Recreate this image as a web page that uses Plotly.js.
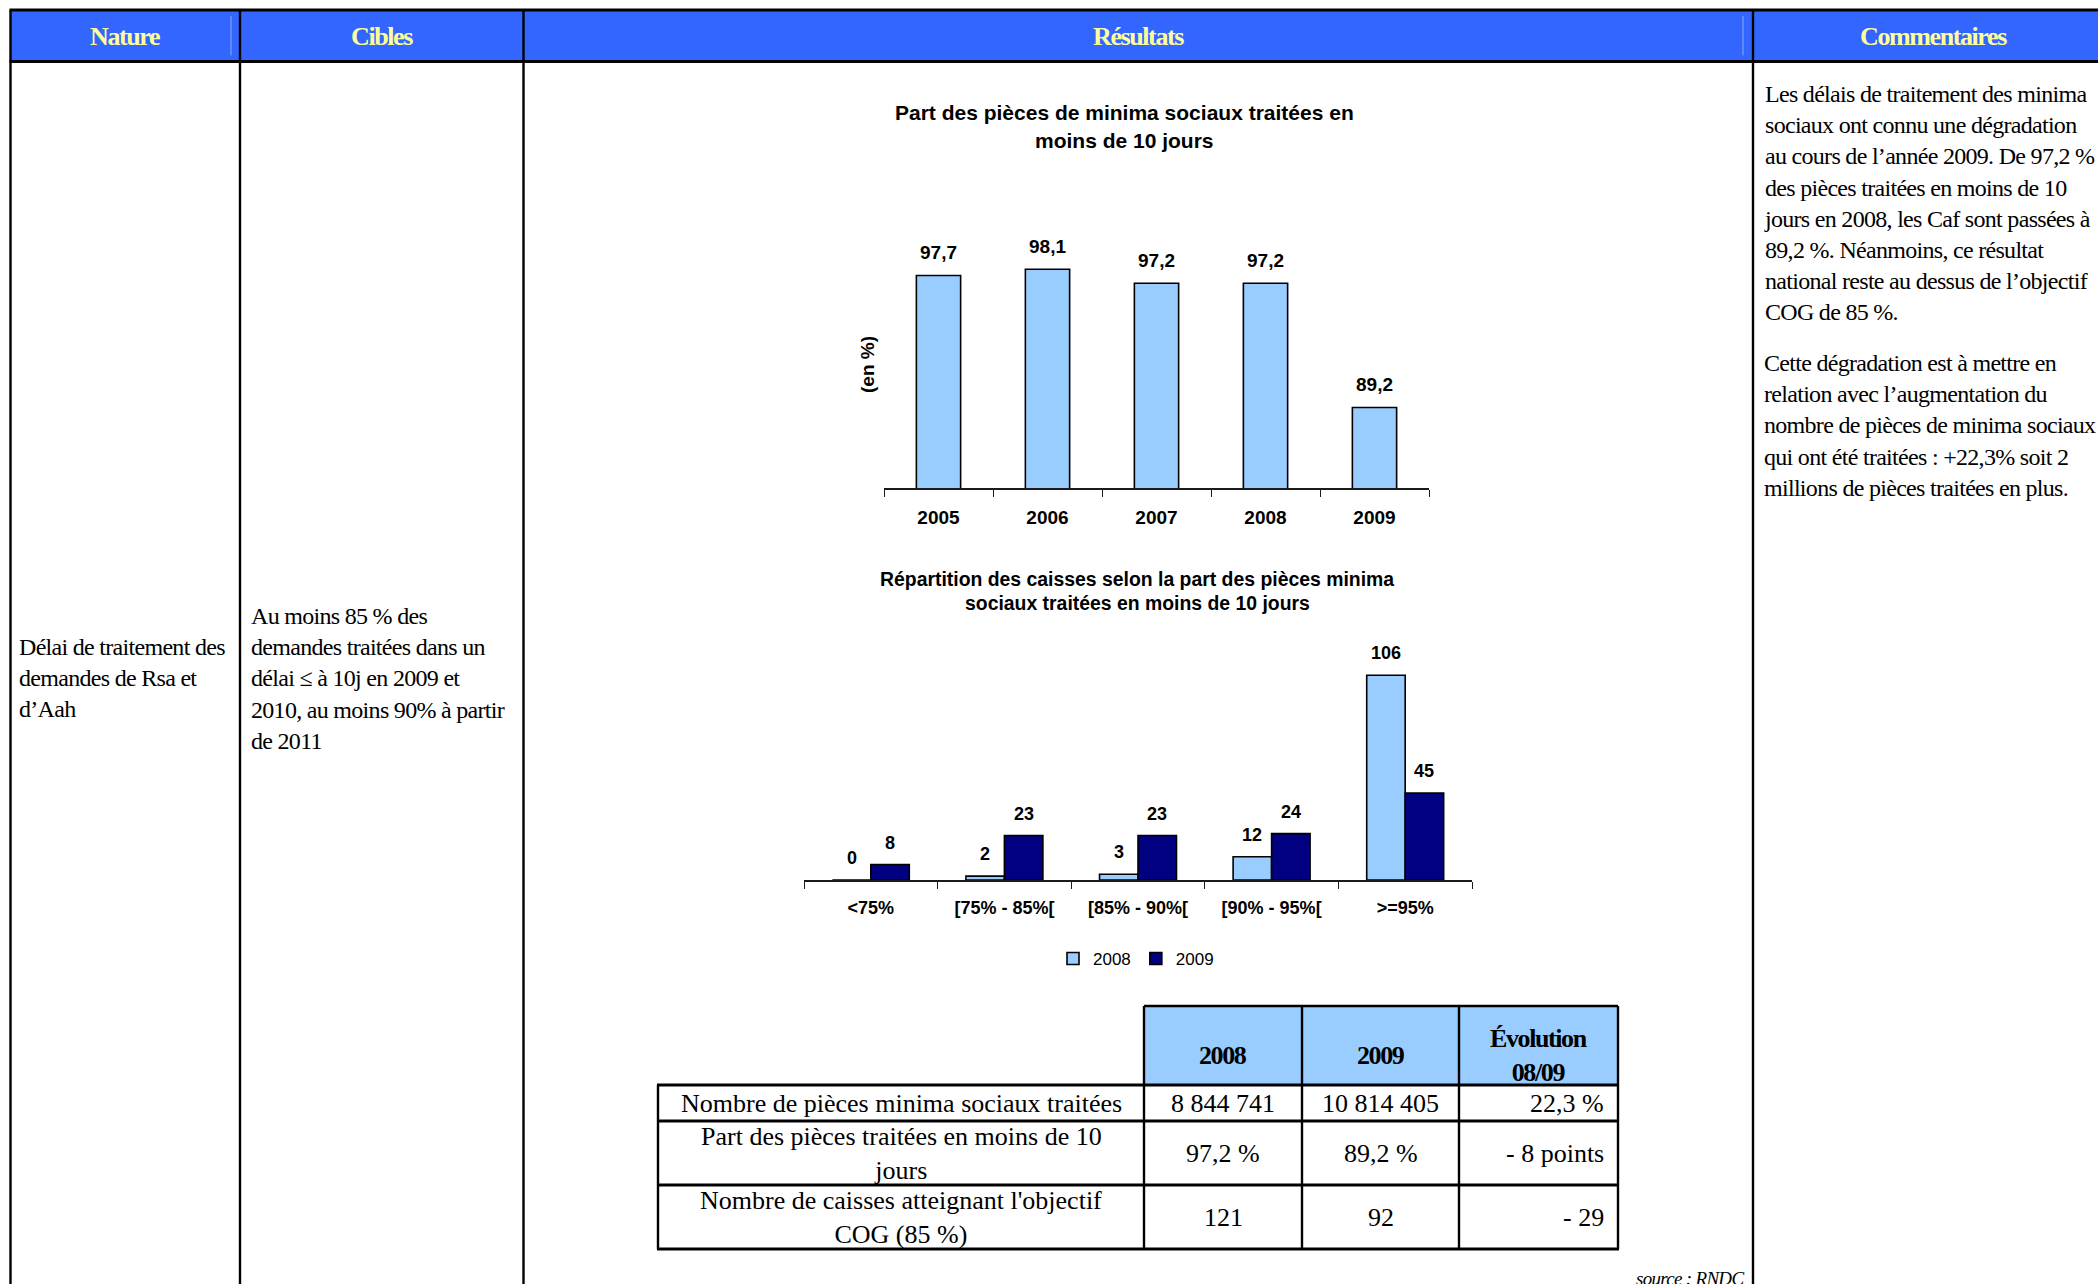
<!DOCTYPE html>
<html>
<head>
<meta charset="utf-8">
<script src="https://cdn.plot.ly/plotly-3.0.1.min.js"></script>
<style>
html, body { margin: 0; padding: 0; background: #ffffff; }
#chart { width: 2098px; height: 1284px; }
/* condensed Times-like rendering of the source document */
text[style*="Tinos"] { letter-spacing: -1.4px; }
text[style*="Times New Roman"] { letter-spacing: -0.7px; }
</style>
</head>
<body>
<div id="chart"></div>
<script>
// ---------------- DATA ----------------
const years = ['2005', '2006', '2007', '2008', '2009'];
const partMoins10Jours = [97.7, 98.1, 97.2, 97.2, 89.2];

const tranches = ['<75%', '[75% - 85%[', '[85% - 90%[', '[90% - 95%[', '>=95%'];
const caisses2008 = [0, 2, 3, 12, 106];
const caisses2009 = [8, 23, 23, 24, 45];
const seriesNames = ['2008', '2009'];

const title1Lines = ['Part des pièces de minima sociaux traitées en', 'moins de 10 jours'];
const title2Lines = ['Répartition des caisses selon la part des pièces minima', 'sociaux traitées en moins de 10 jours'];
const yTitle1 = '(en %)';

const columnHeaders = ['Nature', 'Cibles', 'Résultats', 'Commentaires'];
const natureLines = ['Délai de traitement des', 'demandes de Rsa et', 'd\u2019Aah'];
const ciblesLines = ['Au moins 85 % des', 'demandes traitées dans un', 'délai ≤ à 10j en 2009 et', '2010, au moins 90% à partir', 'de 2011'];
const commentPara1 = [
  'Les délais de traitement des minima',
  'sociaux ont connu une dégradation',
  'au cours de l\u2019année 2009. De 97,2 %',
  'des pièces traitées en moins de 10',
  'jours en 2008, les Caf sont passées à',
  '89,2 %. Néanmoins, ce résultat',
  'national reste au dessus de l\u2019objectif',
  'COG de 85 %.'
];
const commentPara2 = [
  'Cette dégradation est à mettre en',
  'relation avec l\u2019augmentation du',
  'nombre de pièces de minima sociaux',
  'qui ont été traitées : +22,3% soit 2',
  'millions de pièces traitées en plus.'
];

const tableHeader = [['2008'], ['2009'], ['Évolution', '08/09']];
const tableRowLabels = [
  ['Nombre de pièces minima sociaux traitées'],
  ['Part des pièces traitées en moins de 10', 'jours'],
  ['Nombre de caisses atteignant l\'objectif', 'COG (85 %)']
];
const table2008 = ['8 844 741', '97,2 %', '121'];
const table2009 = ['10 814 405', '89,2 %', '92'];
const tableEvolution = ['22,3 %', '- 8 points', '- 29'];
const sourceText = 'source : RNDC';

// ---------------- GEOMETRY (pixels) ----------------
const W = 2098, H = 1284;
const px = x => x / W;
const py = y => 1 - y / H;

const SANS = 'Liberation Sans';
const SERIF_C = 'Liberation Serif, Times New Roman'; // condensed body text
const SERIF_H = 'Liberation Serif, Tinos';           // condensed bold headers
const SERIF = 'Liberation Serif';

const C1 = { x0: 884, x1: 1429, yb: 488.3, yt: 239.7, ymin: 84, ymax: 100 };
const C2 = { x0: 804, x1: 1472, yb: 880, yt: 648.2, ymin: 0, ymax: 120 };
const BAR1_WIDTH = 0.406;
const BARGAP2 = 0.424;

const OUT = { left: 10.5, c1: 240, c2: 523.5, c3: 1753, right: 2113, top: 10, hb: 61.5 };
const TB = { x0: 658, xh: 1144, c2: 1302, c3: 1459, x1: 1618, yh0: 1006, yh1: 1085, r1: 1121, r2: 1185, r3: 1249 };

// ---------------- TRACES ----------------
const traces = [
  {
    type: 'bar', x: years, y: partMoins10Jours, xaxis: 'x', yaxis: 'y',
    width: BAR1_WIDTH, showlegend: false, hoverinfo: 'skip',
    marker: { color: '#99CCFF', line: { color: '#000000', width: 1.6 } }
  },
  {
    type: 'bar', name: seriesNames[0], x: tranches, y: caisses2008, xaxis: 'x2', yaxis: 'y2',
    marker: { color: '#99CCFF', line: { color: '#000000', width: 1.6 } }, hoverinfo: 'skip'
  },
  {
    type: 'bar', name: seriesNames[1], x: tranches, y: caisses2009, xaxis: 'x2', yaxis: 'y2',
    marker: { color: '#000080', line: { color: '#000000', width: 1.6 } }, hoverinfo: 'skip'
  }
];

// ---------------- SHAPES ----------------
const shapes = [];
function line(x0, y0, x1, y1, w, c) {
  shapes.push({ type: 'line', xref: 'paper', yref: 'paper', x0: px(x0), y0: py(y0), x1: px(x1), y1: py(y1),
    line: { color: c || '#000000', width: w } });
}
function rect(x0, y0, x1, y1, fill) {
  shapes.push({ type: 'rect', xref: 'paper', yref: 'paper', x0: px(x0), y0: py(y0), x1: px(x1), y1: py(y1),
    fillcolor: fill, line: { width: 0 }, layer: 'below' });
}
// outer table header
rect(OUT.left, OUT.top, OUT.right, OUT.hb, '#3366FF');
line(OUT.c1 - 9, OUT.top + 6, OUT.c1 - 9, OUT.hb - 6, 1, '#8FA6FF');
line(OUT.c3 - 10, OUT.top + 6, OUT.c3 - 10, OUT.hb - 6, 1, '#8FA6FF');
line(OUT.left - 1, OUT.top, OUT.right, OUT.top, 3);
line(OUT.left - 1, OUT.hb, OUT.right, OUT.hb, 3);
[OUT.left, OUT.c1, OUT.c2, OUT.c3].forEach(x => line(x, OUT.top, x, H + 5, 2.4));

// inner table
rect(TB.xh, TB.yh0, TB.x1, TB.yh1, '#99CCFF');
line(TB.xh, TB.yh0, TB.x1, TB.yh0, 2.6);
[TB.yh1, TB.r1, TB.r2, TB.r3].forEach(y => line(TB.x0 - 1, y, TB.x1 + 1, y, 2.8));
line(TB.x0, TB.yh1, TB.x0, TB.r3, 2.4);
[TB.xh, TB.c2, TB.c3, TB.x1].forEach(x => line(x, TB.yh0, x, TB.r3, 2.4));

// ---------------- ANNOTATIONS ----------------
const annotations = [];
function txt(x, y, text, font, opts) {
  annotations.push(Object.assign({ xref: 'paper', yref: 'paper', x: px(x), y: py(y), text: text,
    showarrow: false, font: font, xanchor: 'center', yanchor: 'middle' }, opts || {}));
}

// outer headers
const headerCenters = [(OUT.left + OUT.c1) / 2, (OUT.c1 + OUT.c2) / 2, (OUT.c2 + OUT.c3) / 2, (OUT.c3 + OUT.right) / 2];
columnHeaders.forEach((h, i) => txt(headerCenters[i], 36.5, h,
  { family: SERIF_H, size: 26, color: '#FFFF99', weight: 'bold' }));

// body texts
const bodyFont = { family: SERIF_C, size: 24, color: '#000000' };
txt(17, 678, natureLines.join('<br>'), bodyFont, { xanchor: 'left', align: 'left' });
txt(249, 678, ciblesLines.join('<br>'), bodyFont, { xanchor: 'left', align: 'left' });
txt(1762, 95 - 16, commentPara1.join('<br>'), bodyFont, { xanchor: 'left', align: 'left', yanchor: 'top' });
txt(1762, 363 - 15, commentPara2.join('<br>'), bodyFont, { xanchor: 'left', align: 'left', yanchor: 'top' });

// chart titles
const t1Font = { family: SANS, size: 21, color: '#000000', weight: 'bold' };
const t2Font = { family: SANS, size: 19.4, color: '#000000', weight: 'bold' };
title1Lines.forEach((t, i) => txt(1124, 113 + i * 28, t, t1Font));
title2Lines.forEach((t, i) => txt(1137, 578.5 + i * 25, t, t2Font));
txt(867, 365, yTitle1, { family: SANS, size: 19, color: '#000000', weight: 'bold' }, { textangle: -90 });

// data labels chart 1 (x given as category index)
partMoins10Jours.forEach((v, i) => annotations.push({
  xref: 'x', yref: 'y', x: i, y: v, text: v.toFixed(1).replace('.', ','),
  showarrow: false, yanchor: 'middle', yshift: 23,
  font: { family: SANS, size: 19, color: '#000000', weight: 'bold' }
}));
// data labels chart 2
const catPx2 = (C2.x1 - C2.x0) / tranches.length;
const half2 = (1 - BARGAP2) / 4 * catPx2;
[caisses2008, caisses2009].forEach((arr, s) => arr.forEach((v, i) => annotations.push({
  xref: 'x2', yref: 'y2', x: i, y: v, text: String(v),
  showarrow: false, yanchor: 'middle', yshift: 22, xshift: s === 0 ? -half2 : half2,
  font: { family: SANS, size: 18, color: '#000000', weight: 'bold' }
})));

// inner table texts
const colCenters = [(TB.x0 + TB.xh) / 2, (TB.xh + TB.c2) / 2, (TB.c2 + TB.c3) / 2, (TB.c3 + TB.x1) / 2];
const rowCenters = [(TB.yh1 + TB.r1) / 2, (TB.r1 + TB.r2) / 2, (TB.r2 + TB.r3) / 2];
tableHeader.forEach((h, j) => txt(colCenters[j + 1], 1055, h.join('<br>'),
  { family: SERIF_H, size: 26, color: '#000000', weight: 'bold' }));
const cellFont = { family: SERIF, size: 26, color: '#000000' };
tableRowLabels.forEach((lab, r) => txt(colCenters[0], rowCenters[r], lab.join('<br>'), cellFont));
table2008.forEach((v, r) => txt(colCenters[1], rowCenters[r], v, cellFont));
table2009.forEach((v, r) => txt(colCenters[2], rowCenters[r], v, cellFont));
tableEvolution.forEach((v, r) => txt(TB.x1 - 12, rowCenters[r], v, cellFont, { xanchor: 'right' }));

// source
txt(1746, 1278, sourceText, { family: SERIF_C, size: 19, color: '#000000', style: 'italic' }, { xanchor: 'right' });

// ---------------- LAYOUT ----------------
const axisLine = { showline: true, linecolor: '#1a1a1a', linewidth: 1.5, ticks: 'outside', tickson: 'boundaries',
  ticklen: 7, tickwidth: 1, tickcolor: '#1a1a1a', showgrid: false, zeroline: false, type: 'category',
  fixedrange: true, range: [-0.5, 4.5], autorange: false, tickangle: 0 };

const layout = {
  width: W, height: H,
  margin: { l: 0, r: 0, t: 0, b: 0, pad: 0 },
  paper_bgcolor: '#ffffff', plot_bgcolor: 'rgba(0,0,0,0)',
  barmode: 'group', bargap: BARGAP2, bargroupgap: 0,
  xaxis: Object.assign({}, axisLine, { domain: [px(C1.x0), px(C1.x1)], anchor: 'y', ticklabelstandoff: 11,
    tickfont: { family: SANS, size: 19, color: '#000000', weight: 'bold' } }),
  yaxis: { domain: [py(C1.yb), py(C1.yt)], range: [C1.ymin, C1.ymax], autorange: false, visible: false, anchor: 'x', fixedrange: true },
  xaxis2: Object.assign({}, axisLine, { domain: [px(C2.x0), px(C2.x1)], anchor: 'y2', ticklabelstandoff: 11,
    tickfont: { family: SANS, size: 18, color: '#000000', weight: 'bold' } }),
  yaxis2: { domain: [py(C2.yb), py(C2.yt)], range: [C2.ymin, C2.ymax], autorange: false, visible: false, anchor: 'x2', fixedrange: true },
  showlegend: true,
  legend: { orientation: 'h', x: px(1136), xanchor: 'center', y: py(959), yanchor: 'middle',
    font: { family: SANS, size: 17, color: '#000000' }, bgcolor: 'rgba(0,0,0,0)', itemwidth: 30, traceorder: 'normal' },
  shapes: shapes,
  annotations: annotations
};

Plotly.newPlot('chart', traces, layout, { staticPlot: true, displayModeBar: false });
</script>
</body>
</html>
